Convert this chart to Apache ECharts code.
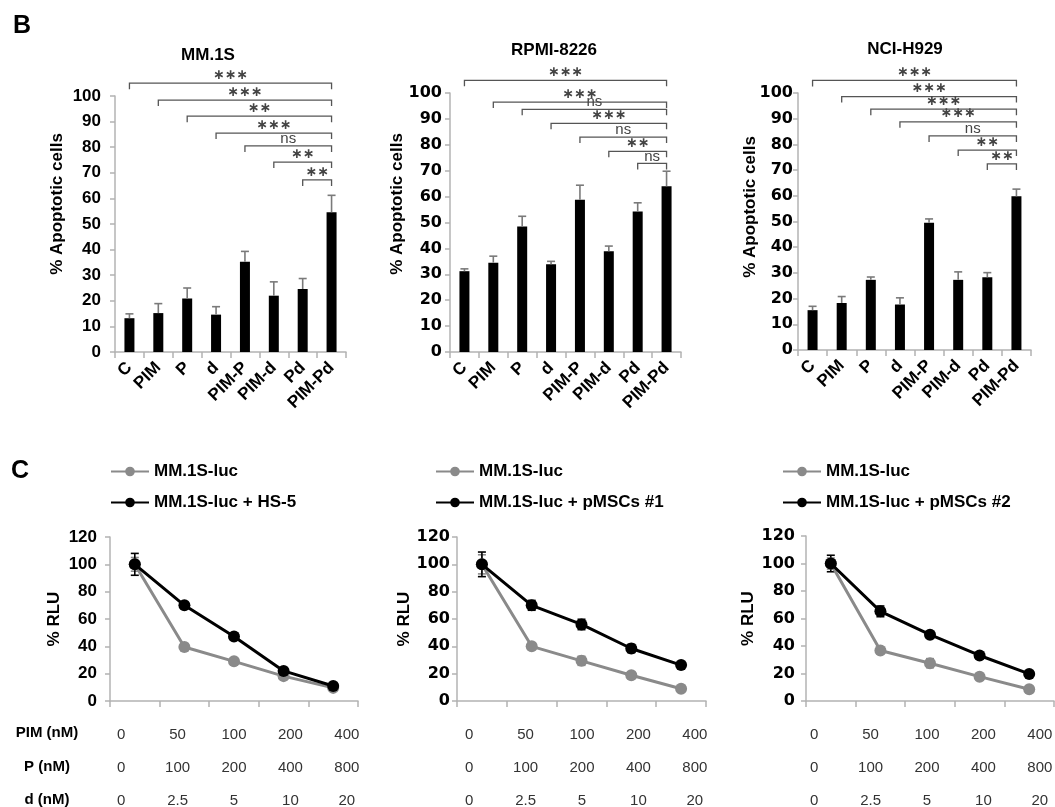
<!DOCTYPE html>
<html>
<head>
<meta charset="utf-8">
<script src="https://cdn.jsdelivr.net/npm/echarts@6/dist/echarts.min.js"></script>
<style>
  html, body { margin: 0; padding: 0; background: #fff; }
  #chart { width: 1055px; height: 807px; }
</style>
</head>
<body>
<div id="chart"></div>
<script>
// 凋亡细胞柱状图数据（B）
const groups = ['C', 'PIM', 'P', 'd', 'PIM-P', 'PIM-d', 'Pd', 'PIM-Pd'];

const mm1sMean = [13.2, 15.2, 20.9, 14.6, 35.3, 22, 24.6, 54.6];
const mm1sSd = [1.7, 3.7, 4.1, 3.1, 4, 5.4, 4.1, 6.6];
const rpmiMean = [31.2, 34.5, 48.5, 33.9, 58.8, 38.9, 54.2, 64];
const rpmiSd = [0.9, 2.5, 3.9, 1.1, 5.6, 2, 3.4, 5.8];
const nciMean = [15.5, 18.3, 27.3, 17.7, 49.5, 27.3, 28.3, 59.8];
const nciSd = [1.5, 2.5, 1.1, 2.6, 1.5, 3.1, 1.8, 2.8];

// 显著性标记：每组与 PIM-Pd 比较
const bracketFrom = [0, 1, 2, 3, 4, 5, 6];
const bracketTo = 7;
const mm1sLevels = [105, 98.4, 92.1, 85.5, 80.5, 74.2, 67.2];
const mm1sSig = ['***', '***', '**', '***', 'ns', '**', '**'];
const rpmiLevels = [104.9, 96.5, 93.7, 88.3, 83, 77.5, 72.8];
const rpmiSig = ['***', '***', 'ns', '***', 'ns', '**', 'ns'];
const nciLevels = [104.9, 98.6, 93.7, 88.8, 83.3, 77.8, 72.4];
const nciSig = ['***', '***', '***', '***', 'ns', '**', '**'];

// 剂量曲线数据（C）
const pimDose = ['0', '50', '100', '200', '400'];
const pDose = ['0', '100', '200', '400', '800'];
const dDose = ['0', '2.5', '5', '10', '20'];

const lucMean1 = [100, 39.5, 29, 18.2, 9.6];
const lucSd1 = [5, 1.5, 1.5, 1, 1];
const hs5Mean = [100, 70, 47.2, 22, 11];
const hs5Sd = [8, 1.5, 1.5, 1.5, 1];

const lucMean2 = [100, 40, 29.4, 18.8, 9];
const lucSd2 = [7, 1, 3.3, 1, 1];
const msc1Mean = [100, 70, 56, 38.4, 26.3];
const msc1Sd = [9, 3.6, 3.8, 3, 1];

const lucMean3 = [100, 36.7, 27.5, 17.7, 8.5];
const lucSd3 = [4, 1, 3.3, 1, 1];
const msc2Mean = [100, 65.2, 48.2, 33.1, 19.7];
const msc2Sd = [6, 3.9, 1, 1, 1];

const FONT = '"Liberation Sans", Arial, sans-serif';
const WIDE = '"DejaVu Sans", sans-serif';
const AXIS_GRAY = '#b3b3b3';
const LINE_GRAY = '#8a8a8a';

const chart = echarts.init(document.getElementById('chart'));

// 柱状图误差线（只向上）
function barErrorItem(params, api) {
    const top = api.coord([api.value(0), api.value(1)]);
    const hi = api.coord([api.value(0), api.value(2)]);
    const st = { stroke: '#7a7a7a', lineWidth: 1.6 };
    return {
        type: 'group',
        children: [
            { type: 'line', shape: { x1: top[0], y1: top[1], x2: hi[0], y2: hi[1] }, style: st },
            { type: 'line', shape: { x1: hi[0] - 4, y1: hi[1], x2: hi[0] + 4, y2: hi[1] }, style: st }
        ]
    };
}

// 折线图误差线（上下）
function lineErrorItem(color) {
    return function (params, api) {
        const lo = api.coord([api.value(0), api.value(1)]);
        const hi = api.coord([api.value(0), api.value(2)]);
        const st = { stroke: color, lineWidth: 1.6 };
        return {
            type: 'group',
            children: [
                { type: 'line', shape: { x1: lo[0], y1: lo[1], x2: hi[0], y2: hi[1] }, style: st },
                { type: 'line', shape: { x1: hi[0] - 4, y1: hi[1], x2: hi[0] + 4, y2: hi[1] }, style: st },
                { type: 'line', shape: { x1: lo[0] - 4, y1: lo[1], x2: lo[0] + 4, y2: lo[1] }, style: st }
            ]
        };
    };
}

// 显著性括号
function bracketItem(labels) {
    return function (params, api) {
        const a = api.coord([api.value(0), api.value(2)]);
        const b = api.coord([api.value(1), api.value(2)]);
        const label = labels[params.dataIndex];
        const isNs = label === 'ns';
        return {
            type: 'group',
            children: [
                {
                    type: 'polyline',
                    shape: { points: [[a[0], a[1] + 6], [a[0], a[1]], [b[0], b[1]], [b[0], b[1] + 6]] },
                    style: { stroke: '#555', lineWidth: 1.3, fill: null }
                },
                {
                    type: 'text',
                    x: (a[0] + b[0]) / 2,
                    y: a[1] - (isNs ? 7 : 8),
                    style: {
                        text: isNs ? label : label.replace(/\*/g, '\u2217'),
                        font: isNs ? '15px ' + FONT : 'bold 14px ' + WIDE,
                        fill: '#444',
                        align: 'center',
                        verticalAlign: 'middle'
                    }
                }
            ]
        };
    };
}

const gridsB = [
    { left: 115, top: 96, width: 231, height: 256 },
    { left: 450, top: 93, width: 231, height: 259 },
    { left: 798, top: 93, width: 233, height: 257 }
];
const gridsC = [
    { left: 110, top: 537, width: 248, height: 164 },
    { left: 457, top: 537, width: 249, height: 164 },
    { left: 806, top: 536, width: 248, height: 165 }
];
// 剂量表格（与曲线点不完全对齐）
const gridsTable = [
    { left: 93, top: 537, width: 282, height: 164 },
    { left: 441, top: 537, width: 282, height: 164 },
    { left: 786, top: 536, width: 282, height: 165 }
];
const yLabelFont = [
    { fontFamily: FONT, fontSize: 17, margin: 14 },
    { fontFamily: WIDE, fontSize: 16, margin: 8 },
    { fontFamily: WIDE, fontSize: 16, margin: 5 }
];
const yLabelFontC = [
    { fontFamily: FONT, fontSize: 17, margin: 13 },
    { fontFamily: WIDE, fontSize: 16, margin: 7 },
    { fontFamily: WIDE, fontSize: 16, margin: 11 }
];
const rluGap = [47, 44, 49];

const xAxes = [];
const yAxes = [];
const series = [];

const bData = [
    [mm1sMean, mm1sSd, mm1sLevels, mm1sSig],
    [rpmiMean, rpmiSd, rpmiLevels, rpmiSig],
    [nciMean, nciSd, nciLevels, nciSig]
];

bData.forEach(([mean, sd, levels, sig], i) => {
    xAxes.push({
        type: 'category', gridIndex: i, data: groups,
        axisLine: { lineStyle: { color: AXIS_GRAY, width: 1.5 } },
        axisTick: { show: true, length: 6, lineStyle: { color: AXIS_GRAY, width: 1.5 } },
        axisLabel: { interval: 0, rotate: 45, margin: 13, color: '#000', fontWeight: 'bold', fontSize: 17, fontFamily: FONT }
    });
    yAxes.push({
        type: 'value', gridIndex: i, min: 0, max: 100, interval: 10,
        axisLine: { show: true, lineStyle: { color: AXIS_GRAY, width: 1.5 } },
        axisTick: { show: true, length: 5, lineStyle: { color: AXIS_GRAY, width: 1.5 } },
        splitLine: { show: false },
        axisLabel: Object.assign({ color: '#000', fontWeight: 'bold' }, yLabelFont[i])
    });
    series.push({
        type: 'bar', xAxisIndex: i, yAxisIndex: i, barWidth: 10,
        itemStyle: { color: '#000' }, data: mean, z: 2
    });
    series.push({
        type: 'custom', xAxisIndex: i, yAxisIndex: i, renderItem: barErrorItem, z: 3,
        encode: { x: 0, y: [1, 2] },
        data: mean.map((m, k) => [k, m, m + sd[k]])
    });
    series.push({
        type: 'custom', xAxisIndex: i, yAxisIndex: i, renderItem: bracketItem(sig), clip: false, z: 3,
        encode: { x: [0, 1], y: 2 },
        data: bracketFrom.map((s, k) => [s, bracketTo, levels[k]])
    });
});

const cData = [
    ['MM.1S-luc', lucMean1, lucSd1, 'MM.1S-luc + HS-5', hs5Mean, hs5Sd],
    ['MM.1S-luc', lucMean2, lucSd2, 'MM.1S-luc + pMSCs #1', msc1Mean, msc1Sd],
    ['MM.1S-luc', lucMean3, lucSd3, 'MM.1S-luc + pMSCs #2', msc2Mean, msc2Sd]
];

cData.forEach(([n1, m1, s1, n2, m2, s2], j) => {
    const i = j + 3;
    xAxes.push({
        type: 'category', gridIndex: i, data: pimDose,
        axisLine: { lineStyle: { color: AXIS_GRAY, width: 1.5 } },
        axisTick: { show: true, length: 6, lineStyle: { color: AXIS_GRAY, width: 1.5 } },
        axisLabel: { show: false }
    });
    yAxes.push({
        type: 'value', gridIndex: i, min: 0, max: 120, interval: 20,
        name: '% RLU', nameLocation: 'middle', nameGap: rluGap[j],
        nameTextStyle: { color: '#000', fontWeight: 'bold', fontSize: 17, fontFamily: FONT },
        axisLine: { show: true, lineStyle: { color: AXIS_GRAY, width: 1.5 } },
        axisTick: { show: true, length: 5, lineStyle: { color: AXIS_GRAY, width: 1.5 } },
        splitLine: { show: false },
        axisLabel: Object.assign({ color: '#000', fontWeight: 'bold' }, yLabelFontC[j])
    });
    series.push({
        type: 'custom', xAxisIndex: i, yAxisIndex: i, renderItem: lineErrorItem(LINE_GRAY), z: 1,
        encode: { x: 0, y: [1, 2] },
        data: m1.map((m, k) => [k, m - s1[k], m + s1[k]])
    });
    series.push({
        type: 'custom', xAxisIndex: i, yAxisIndex: i, renderItem: lineErrorItem('#000'), z: 1,
        encode: { x: 0, y: [1, 2] },
        data: m2.map((m, k) => [k, m - s2[k], m + s2[k]])
    });
    series.push({
        name: n1, type: 'line', xAxisIndex: i, yAxisIndex: i, data: m1,
        symbol: 'circle', symbolSize: 12, z: 2,
        itemStyle: { color: LINE_GRAY }, lineStyle: { color: LINE_GRAY, width: 3 }
    });
    series.push({
        name: n2, type: 'line', xAxisIndex: i, yAxisIndex: i, data: m2,
        symbol: 'circle', symbolSize: 12, z: 3,
        itemStyle: { color: '#000' }, lineStyle: { color: '#000', width: 3 }
    });
});

// 剂量表格轴（只显示文字）
gridsTable.forEach((g, j) => {
    const i = j + 6;
    xAxes.push({
        type: 'category', gridIndex: i, data: pimDose,
        axisLine: { show: false }, axisTick: { show: false },
        axisLabel: {
            interval: 0, margin: 17, color: '#333', fontSize: 15, fontFamily: FONT, lineHeight: 33,
            formatter: (v, k) => pimDose[k] + '\n' + pDose[k] + '\n' + dDose[k]
        }
    });
    yAxes.push({ type: 'value', gridIndex: i, show: false });
});

const legendLeft = [105, 430, 777];
const legends = cData.map((c, j) => ({
    data: [c[0], c[3]],
    left: legendLeft[j], top: 458, orient: 'vertical',
    itemWidth: 38, itemHeight: 12, itemGap: 14,
    selectedMode: false,
    textStyle: { color: '#000', fontWeight: 'bold', fontSize: 17, fontFamily: FONT }
}));

function txt(text, x, y, size, bold, extra) {
    return Object.assign({
        type: 'text', x: x, y: y,
        style: {
            text: text, fill: '#000', align: 'center', verticalAlign: 'middle',
            font: (bold ? 'bold ' : '') + size + 'px ' + FONT
        }
    }, extra || {});
}

const graphics = [
    txt('B', 22, 26, 25, true),
    txt('C', 20, 471, 25, true),
    txt('MM.1S', 208, 55, 17, true),
    txt('RPMI-8226', 554, 50, 17, true),
    txt('NCI-H929', 905, 49, 17, true),
    txt('% Apoptotic cells', 57, 204, 17, true, { rotation: Math.PI / 2 }),
    txt('% Apoptotic cells', 397, 204, 17, true, { rotation: Math.PI / 2 }),
    txt('% Apoptotic cells', 750, 207, 17, true, { rotation: Math.PI / 2 }),
    txt('PIM (nM)', 47, 733, 15, true),
    txt('P (nM)', 47, 767, 15, true),
    txt('d (nM)', 47, 800, 15, true)
];

chart.setOption({
    animation: false,
    grid: gridsB.concat(gridsC, gridsTable).map(g => Object.assign({ outerBoundsMode: 'none' }, g)),
    xAxis: xAxes,
    yAxis: yAxes,
    legend: legends,
    series: series,
    graphic: graphics
});

window.addEventListener('resize', () => chart.resize());
</script>
</body>
</html>
